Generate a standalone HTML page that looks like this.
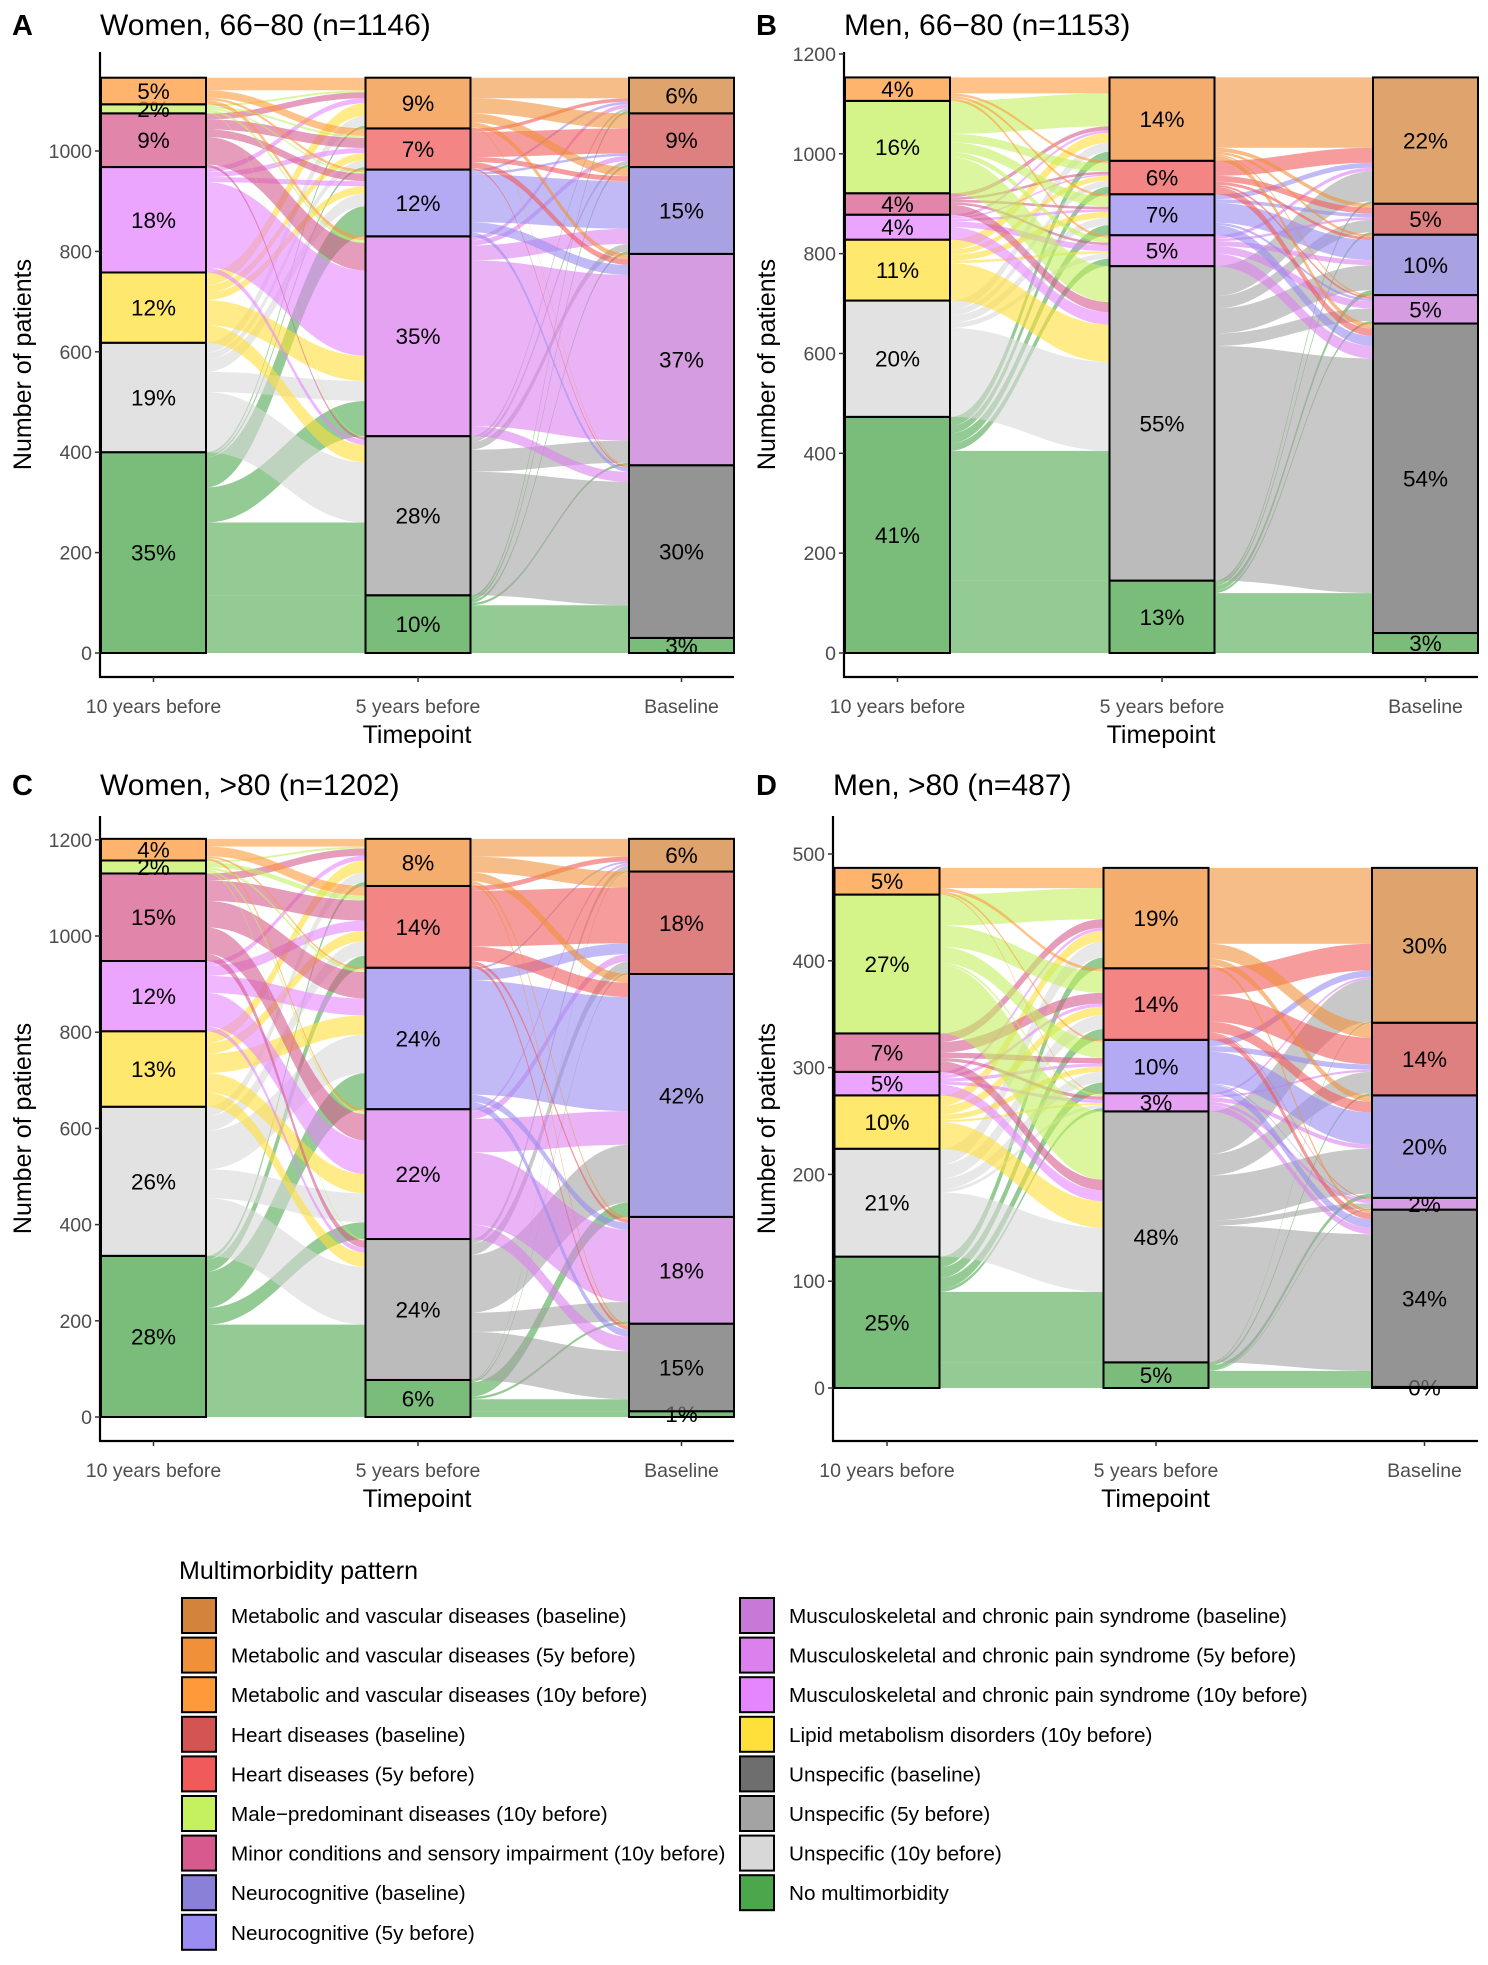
<!DOCTYPE html>
<html><head><meta charset="utf-8"><style>
html,body{margin:0;padding:0;background:#fff}
svg{display:block}
text{font-family:"Liberation Sans",Arial,sans-serif}
</style></head><body>
<svg id="fig" width="1488" height="1965" viewBox="0 0 1488 1965" xmlns="http://www.w3.org/2000/svg"></svg>
<script>
// ---------- data (strata ordered bottom-to-top) ----------
const t1Names = ["No multimorbidity","Unspecific (10y)","Lipid metabolism (10y)","Musculoskeletal (10y)","Minor conditions (10y)","Male-predominant (10y)","Metabolic (10y)"];
const t2Names = ["No multimorbidity","Unspecific (5y)","Musculoskeletal (5y)","Neurocognitive (5y)","Heart (5y)","Metabolic (5y)"];
const t3Names = ["No multimorbidity","Unspecific (baseline)","Musculoskeletal (baseline)","Neurocognitive (baseline)","Heart (baseline)","Metabolic (baseline)"];
const timepoints = ["10 years before","5 years before","Baseline"];

// Panel A: Women 66-80
const flowA12 = [[115,145,70,60,5,5],[0,120,40,25,13,20],[0,35,50,15,15,25],[0,10,170,10,10,10],[0,5,55,15,20,12],[0,2,5,3,4,4],[0,0,8,5,15,25]];
const flowA23 = [[30,65,5,5,5,5],[0,246,44,15,7,5],[0,20,330,30,10,8],[0,8,20,95,5,5],[0,3,12,10,50,7],[0,2,10,18,30,41]];
// Panel B: Men 66-80
const flowB12 = [[145,260,15,20,15,18],[0,178,10,15,12,18],[0,75,5,12,10,20],[0,25,12,5,3,5],[0,20,5,5,5,8],[0,72,10,20,17,66],[0,0,5,5,5,32]];
const flowB23 = [[40,80,5,10,5,5],[0,470,25,50,25,60],[0,25,15,10,5,7],[0,20,5,40,7,10],[0,15,4,6,12,30],[0,10,3,5,8,141]];
// Panel C: Women >80
const flowC12 = [[77,115,35,75,25,8],[0,120,60,80,30,20],[0,30,40,40,22,25],[0,10,70,35,21,10],[0,15,55,55,42,15],[0,3,5,5,10,4],[0,0,5,4,20,16]];
const flowC23 = [[12,25,5,30,3,2],[0,100,40,120,23,10],[0,30,150,70,15,5],[0,15,15,237,23,4],[0,7,7,30,116,10],[0,5,5,18,33,37]];
// Panel D: Men >80
const flowD12 = [[24,66,3,10,10,10],[0,60,3,10,13,15],[0,25,2,5,8,10],[0,10,3,3,3,3],[0,10,3,5,10,8],[0,64,2,15,20,29],[0,0,1,2,3,19]];
const flowD23 = [[1,15,1,4,2,1],[0,128,5,42,20,40],[0,6,3,4,2,2],[0,8,1,30,5,6],[0,6,1,10,25,25],[0,3,0,6,14,71]];

const yTicksA = [0,200,400,600,800,1000];
const yTicksB = [0,200,400,600,800,1000,1200];
const yTicksC = [0,200,400,600,800,1000,1200];
const yTicksD = [0,100,200,300,400,500];

const legendCol1 = ["Metabolic and vascular diseases (baseline)","Metabolic and vascular diseases (5y before)","Metabolic and vascular diseases (10y before)","Heart diseases (baseline)","Heart diseases (5y before)","Male\u2212predominant diseases (10y before)","Minor conditions and sensory impairment (10y before)","Neurocognitive (baseline)","Neurocognitive (5y before)"];
const legendCol2 = ["Musculoskeletal and chronic pain syndrome (baseline)","Musculoskeletal and chronic pain syndrome (5y before)","Musculoskeletal and chronic pain syndrome (10y before)","Lipid metabolism disorders (10y before)","Unspecific (baseline)","Unspecific (5y before)","Unspecific (10y before)","No multimorbidity"];

// ---------- styles ----------
const C = {metB:"#D4843A",met5:"#F0913A",met10:"#FF9A3A",heaB:"#D45454",hea5:"#F05A5A",male:"#C5F060",minor:"#D65A8E",neuB:"#8A80D8",neu5:"#9A8CF0",mskB:"#C679D6",msk5:"#DC80EE",msk10:"#E686FF",lipid:"#FFE03A",unsB:"#6E6E6E",uns5:"#A3A3A3",uns10:"#D8D8D8",none:"#4CA64C"};
const col1 = [C.none,C.uns10,C.lipid,C.msk10,C.minor,C.male,C.met10];
const col2 = [C.none,C.uns5,C.msk5,C.neu5,C.hea5,C.met5];
const col3 = [C.none,C.unsB,C.mskB,C.neuB,C.heaB,C.metB];
const legendColors1 = [C.metB,C.met5,C.met10,C.heaB,C.hea5,C.male,C.minor,C.neuB,C.neu5];
const legendColors2 = [C.mskB,C.msk5,C.msk10,C.lipid,C.unsB,C.uns5,C.uns10,C.none];

const NS="http://www.w3.org/2000/svg";
const svg=document.getElementById('fig');
function mk(tag,attrs,parent){const e=document.createElementNS(NS,tag);for(const k in attrs)e.setAttribute(k,attrs[k]);(parent||svg).appendChild(e);return e;}
function rowSums(m){return m.map(r=>r.reduce((a,b)=>a+b,0));}
function colSums(m){return m[0].map((_,j)=>m.reduce((a,r)=>a+r[j],0));}

function drawPanel(cfg){
  const g=mk('g',{transform:`translate(${cfg.ox},${cfg.oy})`});
  
  
  const n1=rowSums(cfg.f12), n2=colSums(cfg.f12), n3=colSums(cfg.f23);
  const total=n1.reduce((a,b)=>a+b,0);
  const yS=v=>cfg.y0-v*cfg.k;
  const bw=105;
  const cx=cfg.cx;
  const L=mk('text',{x:12,y:35,'font-size':29,'font-weight':'bold',fill:'#000'},g);L.textContent=cfg.letter;
  
  const T=mk('text',{x:cfg.axisX,y:35,'font-size':30,fill:'#000'},g);T.textContent=cfg.title;
  
  function flows(m,ia,ib,colors,stepName){
    const sOff=[],dOff=[];let a=0;
    const rs=rowSums(m),cs=colSums(m);
    for(let i=0;i<rs.length;i++){sOff.push(a);a+=rs[i];}
    a=0;for(let j=0;j<cs.length;j++){dOff.push(a);a+=cs[j];}
    const sPos=m.map((r,i)=>{let o=sOff[i];return r.map(v=>{const p=o;o+=v;return p;});});
    const dPos=[];for(let i=0;i<m.length;i++)dPos.push([]);
    for(let j=0;j<cs.length;j++){let o=dOff[j];for(let i=0;i<m.length;i++){dPos[i][j]=o;o+=m[i][j];}}
    const x0=cx[ia]+bw/2,x1=cx[ib]-bw/2,xm0=x0+(x1-x0)*0.42,xm1=x1-(x1-x0)*0.42;
    for(let i=0;i<m.length;i++)for(let j=0;j<m[i].length;j++){
      const v=m[i][j];if(!v)continue;
      const sb=yS(sPos[i][j]),st=yS(sPos[i][j]+v),db=yS(dPos[i][j]),dt=yS(dPos[i][j]+v);
      const d=`M${x0},${st} C${xm0},${st} ${xm1},${dt} ${x1},${dt} L${x1},${db} C${xm1},${db} ${xm0},${sb} ${x0},${sb} Z`;
      const p=mk('path',{d:d,fill:colors[i],'fill-opacity':0.6,stroke:'none'},g);
      
      
    }
  }
  flows(cfg.f12,0,1,col1,'flow-10y-5y');
  flows(cfg.f23,1,2,col2,'flow-5y-baseline');
  function bars(vals,idx,colors,names){
    let a=0;
    vals.forEach((v,i)=>{
      const yt=yS(a+v),yb=yS(a);
      const r=mk('rect',{x:cx[idx]-bw/2,y:yt,width:bw,height:yb-yt,fill:colors[i],'fill-opacity':0.74,stroke:'#000','stroke-width':2},g);
      
      
      const t=mk('text',{x:cx[idx],y:(yt+yb)/2+8,'font-size':22.5,'text-anchor':'middle',fill:'#000'},g);
      t.textContent=Math.round(v/total*100)+'%';
      
      
      a+=v;
    });
  }
  bars(n1,0,col1,t1Names);bars(n2,1,col2,t2Names);bars(n3,2,col3,t3Names);
  const ax=mk('line',{x1:cfg.axisX,y1:cfg.axTop,x2:cfg.axisX,y2:cfg.axBot,stroke:'#000','stroke-width':2.2},g);
  
  const bx=mk('line',{x1:cfg.axisX-1,y1:cfg.axBot,x2:734,y2:cfg.axBot,stroke:'#000','stroke-width':2.2},g);
  
  cfg.ticks.forEach(tv=>{
    const y=yS(tv);
    mk('line',{x1:cfg.axisX-5,y1:y,x2:cfg.axisX,y2:y,stroke:'#333','stroke-width':1.5},g);
    const t=mk('text',{x:cfg.axisX-8,y:y+7,'font-size':19.5,'text-anchor':'end',fill:'#4D4D4D'},g);
    t.textContent=tv;
    
  });
  timepoints.forEach((tp,i)=>{
    mk('line',{x1:cx[i],y1:cfg.axBot,x2:cx[i],y2:cfg.axBot+5,stroke:'#333','stroke-width':1.5},g);
    const t=mk('text',{x:cx[i],y:cfg.axBot+36,'font-size':19.5,'text-anchor':'middle',fill:'#4D4D4D'},g);
    t.textContent=tp;
    
  });
  const xt=mk('text',{x:(cfg.axisX+734)/2,y:cfg.axBot+66,'font-size':25,'text-anchor':'middle',fill:'#000'},g);
  xt.textContent='Timepoint';
  const ymid=(cfg.axTop+cfg.axBot)/2;
  const yt=mk('text',{x:0,y:0,'font-size':25,'text-anchor':'middle',fill:'#000',transform:`translate(31,${ymid}) rotate(-90)`},g);
  yt.textContent='Number of patients';
}

drawPanel({name:'panel-a',letter:'A',title:'Women, 66\u221280 (n=1146)',ox:0,oy:0,axisX:100,cx:[153.5,418,681.5],y0:653,k:0.502,axTop:52,axBot:677,ticks:yTicksA,f12:flowA12,f23:flowA23});
drawPanel({name:'panel-b',letter:'B',title:'Men, 66\u221280 (n=1153)',ox:744,oy:0,axisX:100,cx:[153.5,418,681.5],y0:653,k:0.4992,axTop:52,axBot:677,ticks:yTicksB,f12:flowB12,f23:flowB23});
drawPanel({name:'panel-c',letter:'C',title:'Women, >80 (n=1202)',ox:0,oy:760,axisX:100,cx:[153.5,418,681.5],y0:657,k:0.481,axTop:56,axBot:681,ticks:yTicksC,f12:flowC12,f23:flowC23});
drawPanel({name:'panel-d',letter:'D',title:'Men, >80 (n=487)',ox:744,oy:760,axisX:89,cx:[143,412,680.5],y0:628,k:1.068,axTop:56,axBot:681,ticks:yTicksD,f12:flowD12,f23:flowD23});

// ---------- legend ----------
const lg=mk('g',{});


const lt=mk('text',{x:179,y:1579,'font-size':25,fill:'#000'},lg);
lt.textContent='Multimorbidity pattern';


function legendCol(labels,colors,kx,tx){
  labels.forEach((lab,i)=>{
    const y=1598+i*39.6;
    const r=mk('rect',{x:kx,y:y,width:34,height:35,fill:colors[i],stroke:'#000','stroke-width':2},lg);
    
    
    const t=mk('text',{x:tx,y:y+25,'font-size':20.7,fill:'#000'},lg);
    t.textContent=lab;
    
    
  });
}
legendCol(legendCol1,legendColors1,182,231);
legendCol(legendCol2,legendColors2,740,789);
</script>
</body></html>
